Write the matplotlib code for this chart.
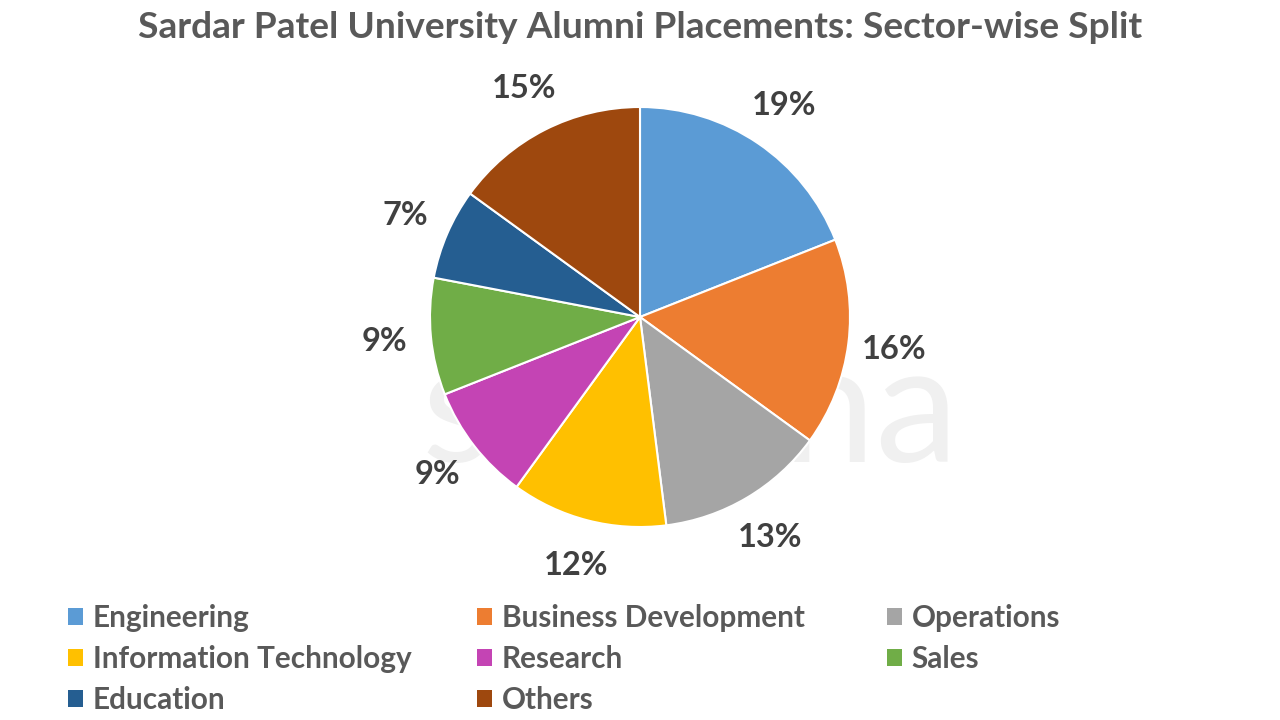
import matplotlib.pyplot as plt
from matplotlib.patches import Patch

sectors = ['Engineering', 'Business Development', 'Operations',
           'Information Technology', 'Research', 'Sales',
           'Education', 'Others']
shares = [19, 16, 13, 12, 9, 9, 7, 15]
colors = ['#5b9bd5', '#ed7d31', '#a5a5a5', '#ffc000',
          '#c444b4', '#70ad47', '#255e91', '#9e480e']

plt.rcParams['font.family'] = ['Lato', 'DejaVu Sans']

fig = plt.figure(figsize=(12.8, 7.2), dpi=100)

# faint watermark behind the pie
fig.text(0.539, 0.424, 'shiksha', fontsize=120, color='#f0f0f0',
         ha='center', va='center', zorder=-5)

R = 210
ax = fig.add_axes([(640 - R) / 1280, (403 - R) / 720, 2 * R / 1280, 2 * R / 720])
wedges, texts, autotexts = ax.pie(
    shares, colors=colors, startangle=90, counterclock=False,
    autopct='%d%%', pctdistance=1.22,
    wedgeprops=dict(edgecolor='white', linewidth=1.5),
    textprops=dict(fontsize=23.5, fontweight='bold', color='#404040'))
ax.set_xlim(-1, 1)
ax.set_ylim(-1, 1)
ax.set_aspect('equal')
ax.patch.set_alpha(0)

fig.text(0.5, 0.962, 'Sardar Patel University Alumni Placements: Sector-wise Split',
         ha='center', va='center', fontsize=26.7, fontweight='bold', color='#595959')

# legend in three fixed columns, rows read left to right
handles = [Patch(facecolor=c, edgecolor='none') for c in colors]
col_x = [0.053, 0.373, 0.693]
for k, x in enumerate(col_x):
    idx = list(range(k, len(sectors), 3))
    leg = fig.legend([handles[i] for i in idx], [sectors[i] for i in idx],
                     loc='upper left', bbox_to_anchor=(x, 1 - 604 / 720),
                     frameon=False, fontsize=21.4, handlelength=0.5, handleheight=0.5,
                     handletextpad=0.33, labelspacing=0.44,
                     borderpad=0, borderaxespad=0)
    for t in leg.get_texts():
        t.set_color('#595959')
        t.set_fontweight('bold')

fig.savefig('out.png', dpi=100, facecolor='white')
